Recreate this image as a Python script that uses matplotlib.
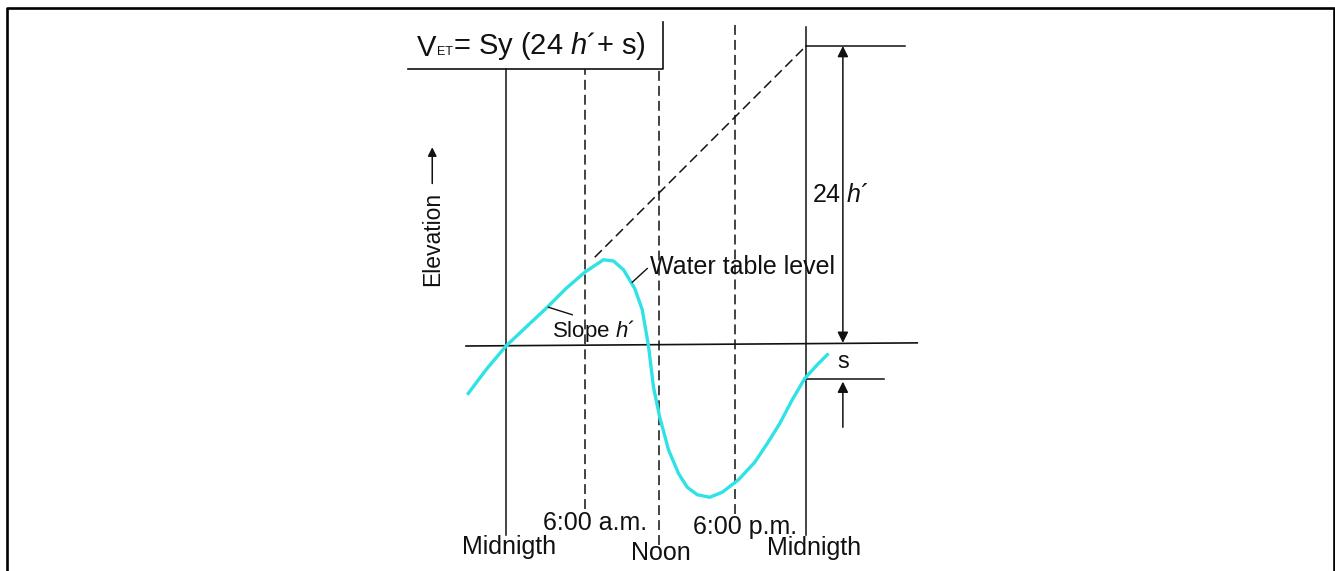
"""
Diurnal water-table fluctuation diagram (White method), V_ET = Sy (24 h' + s).
"""

import matplotlib.pyplot as plt
from matplotlib.lines import Line2D

plt.rcParams["font.family"] = ["Liberation Sans", "DejaVu Sans"]
plt.rcParams["mathtext.fontset"] = "custom"
plt.rcParams["mathtext.rm"] = "Liberation Sans"
plt.rcParams["mathtext.it"] = "Liberation Sans:italic"

# --- data (x in hours after midnight, y = elevation above the reference level) ---
curve_hours = [-3.1, -1.6, 0.0, 1.7, 3.3, 4.8, 6.3, 7.8, 8.6, 9.4, 10.3, 10.9,
               11.4, 11.8, 12.3, 13.0, 13.8, 14.5, 15.3, 16.3, 17.3, 18.6,
               19.9, 20.9, 21.9, 22.9, 23.9, 24.9, 25.8]
curve_elev = [-3.9, -1.9, 0.0, 1.6, 3.1, 4.6, 5.9, 6.9, 6.8, 6.1, 4.6, 2.9,
              0.0, -3.3, -5.7, -8.3, -10.2, -11.3, -11.9, -12.1, -11.7, -10.7,
              -9.3, -7.8, -6.2, -4.3, -2.6, -1.5, -0.6]

mark_hours  = [0.0, 6.3, 12.25, 18.3, 24.0]
mark_labels = ["Midnigth", "6:00 a.m.", "Noon", "6:00 p.m.", "Midnigth"]
mark_top    = [22.2, 22.2, 22.2, 25.9, 25.5]
mark_bottom = [-15.1, -13.0, -15.9, -13.4, -15.1]
mark_solid  = [True, False, False, False, True]

slope_h = 1.0          # h' (elevation units per hour)
rise_24h = 24 * slope_h
s_drop = -2.6          # elevation at the second midnight

INK  = "#111111"
CYAN = "#2fe2e6"

fig = plt.figure(figsize=(13.35, 5.71), dpi=100)
ax = fig.add_axes([0, 0, 1, 1])
ax.set_xlim(-40.48, 66.32)
ax.set_ylim(-18.0, 27.68)
ax.axis("off")

# reference level
ax.plot([-3.2, 32.9], [0.0, 0.25], color=INK, lw=1.2)

# vertical time marks
for h, top, bot, solid in zip(mark_hours, mark_top, mark_bottom, mark_solid):
    if solid:
        ax.plot([h, h], [bot, top], color=INK, lw=1.1)
    else:
        ax.plot([h, h], [bot, top], color=INK, lw=1.1, dashes=(6.5, 3.3))

# labels under the marks
label_y = [-16.1, -14.2, -16.6, -14.5, -16.2]
label_dx = [0.25, 0.8, 0.15, 0.8, 0.65]
for h, lab, y, dx in zip(mark_hours, mark_labels, label_y, label_dx):
    ax.text(h + dx, y, lab, ha="center", va="center", fontsize=18, color=INK)

# extrapolated slope h'
ax.plot([7.1, 24.0], [7.1 * slope_h, rise_24h], color=INK, lw=1.1, dashes=(6.5, 3.3))

# 24 h' level and s level
ax.plot([24.0, 31.9], [rise_24h, rise_24h], color=INK, lw=1.1)
ax.plot([24.0, 30.2], [s_drop, s_drop], color=INK, lw=1.1)

# water table curve
ax.plot(curve_hours, curve_elev, color=CYAN, lw=2.4, solid_capstyle="butt")

# arrows
ax.annotate("", xy=(26.95, rise_24h), xytext=(26.95, 0.25),
            arrowprops=dict(arrowstyle="<|-|>", color=INK, lw=1.1,
                            mutation_scale=16, shrinkA=0, shrinkB=0))
ax.annotate("", xy=(26.95, s_drop - 0.25), xytext=(26.95, -6.5),
            arrowprops=dict(arrowstyle="-|>", color=INK, lw=1.1,
                            mutation_scale=16, shrinkA=0, shrinkB=0))
ax.text(24.5, 12.1, "24 $h$´", ha="left", va="center", fontsize=18, color=INK)
ax.text(26.95, -1.3, "s", ha="center", va="center", fontsize=17, color=INK)

# curve annotations
ax.plot([10.1, 11.3], [5.1, 6.2], color=INK, lw=1.0)
ax.text(11.5, 6.35, "Water table level", ha="left", va="center", fontsize=18, color=INK)
ax.plot([3.4, 5.3], [3.1, 2.5], color=INK, lw=1.0)
ax.text(3.7, 1.2, "Slope $h$´", ha="left", va="center", fontsize=16, color=INK)

# elevation axis label
ax.text(-5.9, 8.6, "Elevation", rotation=90, ha="center", va="center",
        fontsize=16.5, color=INK)
ax.annotate("", xy=(-5.9, 15.9), xytext=(-5.9, 13.0),
            arrowprops=dict(arrowstyle="-|>", color=INK, lw=1.1,
                            mutation_scale=13, shrinkA=0, shrinkB=0))

# equation box
ax.plot([-7.85, 12.55, 12.55], [22.2, 22.2, 25.9], color=INK, lw=1.2)
t_v = ax.text(-7.1, 22.7, "V", ha="left", va="bottom", fontsize=21, color=INK)
t_et = ax.annotate("ET", xy=(1, 0), xycoords=t_v, xytext=(0.5, 3),
                   textcoords="offset points", ha="left", va="bottom",
                   fontsize=9, color=INK)
ax.annotate(r"= Sy (24 $h$´+ s)", xy=(1, 0), xycoords=(t_et, t_v),
            xytext=(0, 0), textcoords="offset points", ha="left", va="bottom",
            fontsize=21, color=INK)

# outer frame (left, top, right)
W, H = 1335, 571
fig.add_artist(Line2D([7 / W, 7 / W, 1333.5 / W, 1333.5 / W],
                      [0, 1 - 8 / H, 1 - 8 / H, 0],
                      transform=fig.transFigure, color="black", lw=1.9))

fig.savefig("out.png", dpi=100)
